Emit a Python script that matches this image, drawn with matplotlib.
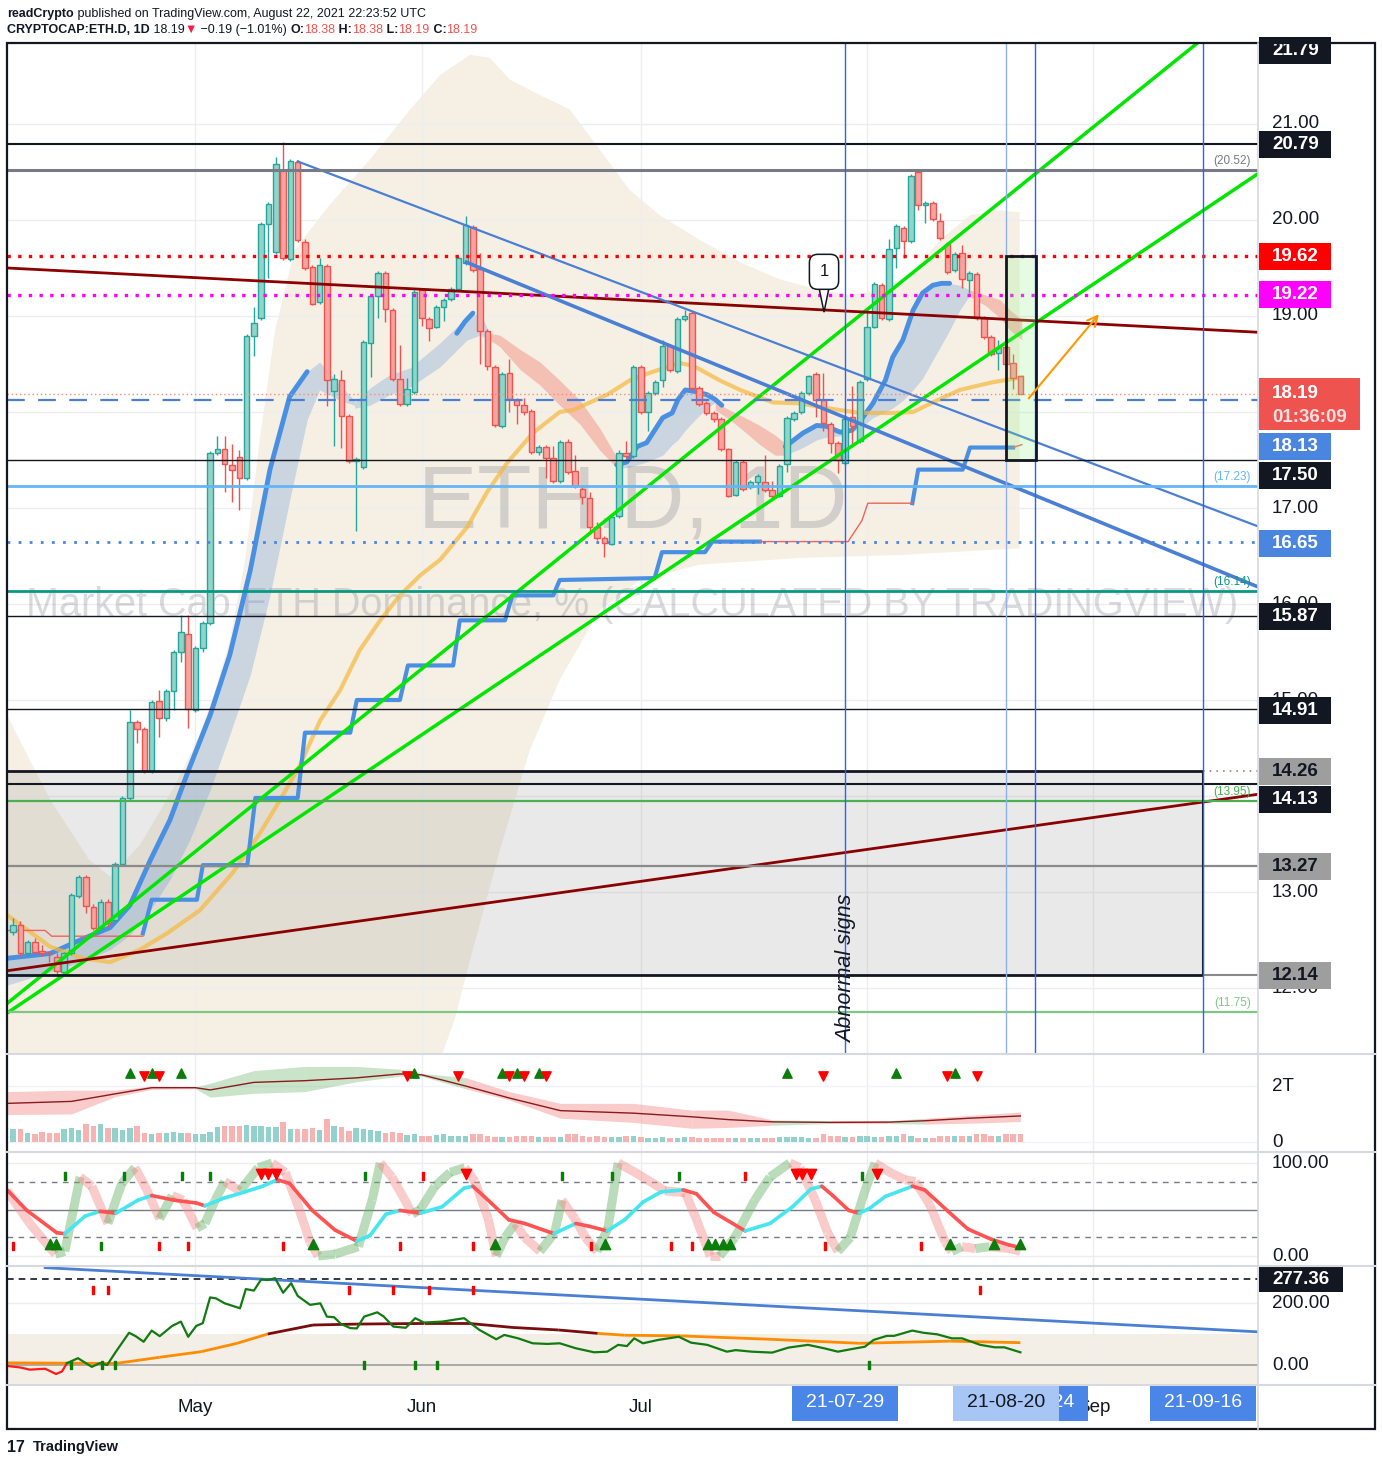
import numpy as np
import pandas as pd
import matplotlib
matplotlib.use("Agg")
import matplotlib.pyplot as plt
from matplotlib.patches import Rectangle, Polygon
from matplotlib.lines import Line2D
from matplotlib.collections import LineCollection
from matplotlib.transforms import blended_transform_factory as blend

plt.rcParams['font.family'] = ['Liberation Sans', 'DejaVu Sans']

W, H = 1382, 1466
START = pd.Timestamp('2021-04-06')


def day(s):
    return (pd.Timestamp(s) - START).days


XMIN, XMAX = -0.82, 170.55

# ---- daily candles, ETH dominance (%) ----
opens = [12.58, 12.66, 12.36, 12.48, 12.39, 12.37, 12.32, 12.17, 12.36, 12.96,
         13.16, 12.84, 12.63, 12.90, 12.71, 13.29, 13.98, 14.77, 14.70, 14.26,
         14.99, 14.81, 15.09, 15.50, 15.69, 14.90, 15.54, 15.80, 17.57, 17.61,
         17.45, 17.53, 17.31, 18.79, 18.98, 19.96, 19.67, 20.52, 19.59, 20.60,
         19.77, 19.51, 19.15, 19.52, 18.22, 18.33, 17.96, 17.49, 17.43, 18.72,
         19.21, 19.45, 19.06, 18.34, 18.08, 18.21, 19.27, 18.97, 18.89, 19.09,
         19.18, 19.28, 19.55, 19.93, 19.49, 18.84, 18.47, 17.85, 18.41, 18.12,
         18.07, 18.01, 17.58, 17.64, 17.52, 17.28, 17.69, 17.39, 17.20, 17.10,
         16.80, 16.69, 16.63, 16.92, 17.57, 17.54, 18.47, 18.00, 18.20, 18.33,
         18.69, 18.43, 18.97, 19.03, 18.25, 18.09, 17.99, 17.93, 17.61, 17.14,
         17.48, 17.22, 17.27, 17.27, 17.19, 17.13, 17.46, 17.93, 18.00, 18.20,
         18.40, 18.12, 17.88, 17.68, 17.47, 17.95, 17.70, 18.34, 18.89, 19.32,
         18.97, 19.71, 19.92, 19.78, 20.50, 20.16, 20.18, 19.99, 19.75, 19.48,
         19.66, 19.38, 19.44, 18.98, 18.78, 18.61, 18.68, 18.51, 18.38]
highs = [12.73, 12.70, 12.50, 12.52, 12.45, 12.39, 12.36, 12.38, 12.99, 13.18,
         13.18, 12.88, 12.93, 12.93, 13.31, 14.00, 14.90, 14.79, 14.72, 15.00,
         15.10, 15.11, 15.52, 15.89, 15.89, 15.56, 15.82, 17.59, 17.75, 17.75,
         17.67, 17.60, 18.81, 19.09, 19.98, 20.19, 20.66, 20.81, 20.63, 20.62,
         19.80, 19.53, 19.60, 19.54, 18.40, 18.44, 17.98, 17.53, 18.75, 19.23,
         19.47, 19.47, 19.08, 18.70, 18.35, 19.27, 19.29, 18.99, 19.11, 19.19,
         19.30, 19.62, 20.04, 19.95, 19.66, 18.86, 18.49, 18.42, 18.55, 18.15,
         18.15, 18.03, 17.66, 17.66, 17.65, 17.71, 17.72, 17.55, 17.22, 17.17,
         16.85, 16.71, 16.93, 17.60, 17.70, 18.49, 18.49, 18.22, 18.33, 18.75,
         18.71, 18.99, 19.06, 19.05, 18.27, 18.11, 18.01, 17.95, 17.63, 17.50,
         17.50, 17.29, 17.35, 17.55, 17.28, 17.46, 17.96, 18.01, 18.22, 18.39,
         18.42, 18.41, 17.90, 17.70, 17.95, 18.27, 18.33, 19.06, 19.35, 19.34,
         19.80, 19.96, 19.94, 20.48, 20.52, 20.20, 20.20, 20.07, 19.77, 19.67,
         19.74, 19.47, 19.46, 19.00, 18.80, 18.75, 18.88, 18.60, 18.38]
lows = [12.55, 12.33, 12.33, 12.35, 12.33, 12.27, 12.15, 12.14, 12.34, 12.94,
        12.78, 12.60, 12.60, 12.64, 12.69, 13.27, 13.96, 14.55, 14.24, 14.24,
        14.62, 14.78, 14.90, 15.40, 14.71, 14.88, 15.50, 15.78, 17.55, 17.17,
        17.06, 16.98, 17.29, 18.58, 18.96, 19.40, 19.65, 19.58, 19.57, 19.77,
        19.48, 19.11, 19.13, 18.06, 17.65, 17.62, 17.47, 16.76, 17.41, 18.36,
        18.98, 18.94, 18.32, 18.06, 18.06, 18.19, 18.90, 18.74, 18.87, 18.95,
        19.16, 19.26, 19.53, 19.46, 18.50, 18.44, 17.84, 17.83, 18.00, 17.88,
        17.97, 17.56, 17.55, 17.31, 17.26, 17.26, 17.35, 17.21, 17.04, 16.73,
        16.67, 16.49, 16.61, 16.90, 17.52, 17.52, 17.98, 17.80, 18.18, 18.26,
        18.42, 18.41, 18.95, 18.23, 18.06, 17.97, 17.90, 17.59, 17.11, 17.12,
        17.18, 17.20, 17.15, 17.17, 17.10, 17.11, 17.38, 17.91, 17.98, 18.18,
        17.95, 17.80, 17.57, 17.36, 17.45, 17.66, 17.68, 18.32, 18.87, 18.96,
        18.95, 19.50, 19.60, 19.76, 20.10, 19.97, 19.99, 19.79, 19.44, 19.46,
        19.29, 19.24, 18.96, 18.76, 18.58, 18.44, 18.48, 18.24, 18.19]
closes = [12.66, 12.37, 12.48, 12.38, 12.37, 12.36, 12.18, 12.36, 12.97, 13.16,
          12.85, 12.63, 12.90, 12.68, 13.29, 13.98, 14.77, 14.70, 14.26, 14.98,
          14.81, 15.09, 15.50, 15.71, 14.91, 15.54, 15.80, 17.57, 17.61, 17.46,
          17.40, 17.31, 18.79, 18.93, 19.96, 20.17, 20.58, 19.60, 20.61, 19.79,
          19.50, 19.13, 19.53, 18.33, 18.34, 17.96, 17.49, 17.51, 18.73, 19.21,
          19.45, 19.07, 18.34, 18.08, 18.24, 19.25, 18.98, 18.88, 19.09, 19.17,
          19.28, 19.60, 19.95, 19.48, 18.84, 18.48, 17.86, 18.40, 18.14, 18.07,
          18.00, 17.58, 17.64, 17.52, 17.28, 17.69, 17.37, 17.23, 17.11, 16.80,
          16.69, 16.64, 16.91, 17.57, 17.54, 18.47, 18.00, 18.20, 18.31, 18.69,
          18.44, 18.97, 19.00, 18.25, 18.08, 17.99, 17.93, 17.61, 17.13, 17.48,
          17.20, 17.27, 17.33, 17.19, 17.12, 17.44, 17.94, 17.99, 18.20, 18.37,
          18.12, 17.89, 17.68, 17.50, 17.93, 17.85, 18.31, 18.89, 19.33, 18.98,
          19.70, 19.94, 19.78, 20.46, 20.16, 20.18, 20.01, 19.81, 19.46, 19.65,
          19.39, 19.45, 18.98, 18.78, 18.60, 18.68, 18.50, 18.35, 18.19]
volumes = [.46, .45, .31, .29, .35, .31, .31, .45, .49, .43,
           .63, .58, .63, .49, .49, .43, .49, .58, .31, .27,
           .33, .33, .35, .31, .31, .27, .27, .37, .55, .58,
           .58, .58, .61, .58, .58, .55, .55, .70, .46, .45,
           .46, .51, .43, .81, .58, .52, .39, .49, .46, .43,
           .39, .31, .35, .31, .25, .27, .23, .23, .25, .27,
           .23, .23, .23, .30, .30, .23, .19, .19, .19, .23,
           .20, .20, .19, .19, .19, .18, .27, .27, .23, .19,
           .20, .19, .19, .19, .20, .20, .19, .15, .15, .17,
           .15, .15, .19, .19, .15, .13, .13, .13, .13, .15,
           .13, .13, .13, .13, .13, .19, .19, .17, .17, .15,
           .15, .27, .20, .20, .19, .19, .20, .20, .18, .18,
           .20, .23, .27, .20, .15, .15, .15, .20, .23, .23,
           .23, .23, .27, .27, .23, .23, .27, .27, .27]

# ---- overlays on the price pane ----
cloud_up_x = [-0.8, 5.1, 10.5, 13.3, 17.4, 22.2, 25.6, 27.7, 29.7, 31.8, 33.8, 35.9,
              38.6, 43.4, 48.9, 54.4, 58.5, 62.6, 65.3, 68.1, 72.2, 76.3, 80.4, 84.5,
              88.6, 94.1, 99.6, 105.1, 110.5, 114.7, 118.8, 122.9, 127.0, 131.1, 135.2, 137.9]
cloud_up_y = [14.84, 13.96, 13.33, 13.16, 13.49, 14.11, 14.64, 15.10, 15.62, 16.46, 17.71, 18.85,
              19.69, 20.16, 20.63, 21.15, 21.51, 21.72, 21.69, 21.46, 21.30, 21.15, 20.73, 20.31,
              20.05, 19.79, 19.56, 19.38, 19.27, 19.22, 19.27, 19.43, 19.79, 20.05, 20.10, 20.08]
cloud_lo_x = [137.9, 121.5, 107.8, 94.1, 85.9, 80.4, 74.9, 70.8, 66.7, 62.6, 60.5, 58.5, -0.8]
cloud_lo_y = [16.58, 16.51, 16.48, 16.41, 16.25, 15.94, 15.21, 14.48, 13.44, 12.29, 11.67, 11.25, 11.25]

rb1_x = [-0.8, 5.1, 9.2, 13.3, 16.0, 18.8, 21.5, 24.2, 27.0, 29.7, 32.5, 35.2, 37.9, 40.3, 42.0, 44.8, 46.8]
rb1_top = [12.31, 12.36, 12.50, 12.63, 12.86, 13.33, 13.75, 14.30, 14.84, 15.47, 16.35, 17.40, 18.16, 18.42, 18.52, 18.28, 18.12]
rb1_bot = [12.03, 12.17, 12.27, 12.40, 12.55, 12.81, 13.13, 13.54, 14.06, 14.64, 15.26, 16.09, 17.08, 17.92, 18.23, 18.12, 18.07]
rb2_x = [46.8, 48.9, 51.6, 54.4, 58.5, 62.2, 64.0, 65.3]
rb2_top = [18.10, 18.25, 18.39, 18.46, 18.72, 18.99, 19.03, 18.82]
rb2_bot = [18.04, 18.07, 18.18, 18.26, 18.47, 18.75, 18.80, 18.75]
rp1_x = [65.3, 66.7, 69.5, 72.2, 74.9, 77.7, 80.4, 82.7]
rp1_top = [18.82, 18.80, 18.65, 18.52, 18.33, 18.12, 17.83, 17.53]
rp1_bot = [18.75, 18.68, 18.44, 18.28, 18.07, 17.87, 17.60, 17.42]
rb3_x = [82.7, 84.1, 85.5, 86.8, 89.0, 90.3, 91.1, 92.1, 93.7, 95.1, 96.2, 97.1]
rb3_top = [17.45, 17.48, 17.64, 17.68, 17.94, 17.99, 18.13, 18.23, 18.21, 18.18, 18.13, 18.07]
rb3_bot = [17.42, 17.42, 17.45, 17.48, 17.55, 17.66, 17.71, 17.81, 17.94, 18.04, 18.10, 18.07]
rp2_x = [96.2, 98.2, 100.3, 102.3, 104.4, 106.0]
rp2_top = [18.10, 18.02, 17.94, 17.86, 17.76, 17.66]
rp2_bot = [18.02, 17.92, 17.79, 17.66, 17.55, 17.55]
rb4_x = [105.8, 108.2, 110.1, 111.5, 113.3, 114.9, 116.0, 117.8, 119.5, 120.5, 121.9, 123.3,
         124.6, 126.0, 127.2, 128.3, 129.7, 131.1]
rb4_top = [17.64, 17.78, 17.86, 17.85, 17.79, 17.81, 17.90, 18.09, 18.33, 18.57, 18.75, 19.06,
           19.24, 19.32, 19.34, 19.34, 19.32, 19.27]
rb4_bot = [17.55, 17.63, 17.71, 17.74, 17.75, 17.79, 17.83, 17.94, 18.00, 18.04, 18.12, 18.23,
           18.35, 18.54, 18.70, 18.85, 19.06, 19.22]
rp3_x = [131.1, 133.2, 135.2, 136.6, 138.2]
rp3_top = [19.27, 19.22, 19.17, 19.06, 18.96]
rp3_bot = [19.20, 19.11, 18.98, 18.85, 18.75]
hull2_x = [60.8, 61.9, 63.0]
hull2_y = [18.82, 18.94, 19.03]

ema_x = [-0.8, 5.1, 9.6, 13.3, 17.4, 21.1, 25.6, 30.1, 33.8, 36.6, 39.3, 42.1, 44.8, 47.5,
         50.3, 53.0, 55.8, 58.5, 62.2, 64.9, 67.7, 71.2, 74.9, 76.7, 81.4, 84.5, 87.3, 91.4,
         93.2, 96.8, 99.6, 104.1, 107.8, 111.5, 116.0, 120.5, 123.3, 126.0, 129.7, 134.2, 138.2]
ema_y = [12.76, 12.43, 12.31, 12.27, 12.40, 12.57, 12.81, 13.20, 13.61, 13.96, 14.32, 14.79, 15.10, 15.52,
         15.83, 16.09, 16.30, 16.46, 16.80, 17.16, 17.47, 17.78, 18.00, 18.02, 18.18, 18.33, 18.41, 18.51,
         18.48, 18.33, 18.23, 18.10, 18.09, 18.04, 17.99, 17.99, 18.00, 18.10, 18.23, 18.31, 18.36]

step_x = [17.8, 19.0, 25.2, 26.0, 32.1, 33.2, 39.0, 40.0, 46.2, 47.1, 53.0, 54.1, 60.3, 61.2,
          67.4, 68.4, 74.0, 74.9, 87.9, 88.9, 94.8, 95.8, 102.3]
step_y = [12.57, 12.92, 12.92, 13.28, 13.28, 13.98, 13.98, 14.66, 14.66, 15.00, 15.00, 15.36, 15.36, 15.83,
          15.83, 16.09, 16.09, 16.25, 16.27, 16.54, 16.54, 16.65, 16.65]
step2_x = [123.2, 124.0, 130.1, 131.1, 137.0]
step2_y = [17.05, 17.40, 17.40, 17.63, 17.63]
stop_r1_x = [-0.8, 4.4, 5.3, 17.8]
stop_r1_y = [12.60, 12.60, 12.54, 12.54]
stop_r2_x = [102.3, 114.4, 116.3, 117.1, 123.2]
stop_r2_y = [16.65, 16.65, 16.87, 17.05, 17.05]
stop_r3_x = [137.0, 138.2]
stop_r3_y = [17.63, 17.66]

green_up_x, green_up_y = [-0.8, 162.2], [11.84, 21.84]
green_lo_x, green_lo_y = [-0.8, 170.7], [11.74, 20.49]
red_dn_x, red_dn_y = [-0.8, 170.7], [19.50, 18.83]
red_up_x, red_up_y = [-0.8, 170.7], [12.18, 14.02]
blue_thin_x, blue_thin_y = [39.0, 170.5], [20.61, 16.81]
blue_thick_x, blue_thick_y = [62.1, 170.5], [19.56, 16.18]

# price-scale tags: (level, where the tag sits, fill, text colour)
tag_levels = [21.79, 20.79, 19.62, 19.22, 18.13, 17.50, 16.65, 15.87, 14.91, 14.26, 14.13, 13.27, 12.14]
tag_spots = [21.77, 20.79, 19.62, 19.22, 17.64, 17.34, 16.63, 15.87, 14.89, 14.26, 13.96, 13.27, 12.13]
tag_fills = ['#131722', '#131722', '#ff0000', '#ff00ff', '#4a86e0', '#131722', '#4a86e0', '#131722',
             '#131722', '#9e9e9e', '#131722', '#9e9e9e', '#9e9e9e']
tag_text = ['white'] * 9 + ['#131722', 'white', '#131722', '#131722']
price_ticks = [21, 20, 19, 17, 16, 15, 13, 12]

# ---- volume pane ----
vr_x = [-0.8, 8, 14, 19, 25, 27, 33, 40, 47, 53, 56, 62, 68, 75, 85, 93, 98, 104, 112, 120, 125, 131, 138]
vr_mid = [1.38, 1.45, 1.72, 1.94, 1.94, 1.86, 2.13, 2.19, 2.29, 2.43, 2.40, 2.00, 1.57, 1.12, 1.03, 0.90,
          0.80, 0.72, 0.70, 0.71, 0.76, 0.85, 0.93]
vr_up = [1.80, 1.85, 1.85, 2.00, 1.96, 2.10, 2.55, 2.70, 2.70, 2.60, 2.45, 2.30, 1.80, 1.38, 1.38, 1.14,
         1.14, 0.79, 0.76, 0.76, 0.85, 0.95, 1.07]
vr_lo = [0.98, 1.00, 1.62, 1.88, 1.90, 1.60, 1.74, 1.80, 2.15, 2.35, 2.35, 1.90, 1.50, 0.85, 0.70, 0.49,
         0.52, 0.60, 0.66, 0.66, 0.64, 0.67, 0.73]
vr_state = ['p', 'p', 'p', 'p', 'g', 'g', 'g', 'g', 'g', 'g', 'g', 'p', 'p', 'p', 'p', 'p', 'p', 'g',
            'p', 'g', 'p', 'p']
vol_up_sig = [16, 19, 23, 55, 67, 69, 72, 106, 121, 129]
vol_dn_sig = [18, 20, 54, 61, 68, 70, 73, 111, 128, 132]

# ---- stochastic pane ----
fast_x = [-0.8, 2.3, 5.8, 7.1, 9.2, 10.8, 13.0, 14.9, 16.7, 18.1, 20.1, 21.8, 23.3, 25.2, 26.3, 27.7,
          29.0, 31.1, 33.6, 35.5, 37.3, 39.0, 40.7, 41.8, 44.1, 47.3, 49.2, 50.3, 51.9, 53.7, 54.7,
          55.8, 57.8, 59.9, 61.9, 63.3, 65.1, 66.2, 67.4, 68.8, 70.1, 72.2, 74.2, 75.2, 77.0, 78.4,
          80.0, 81.5, 82.9, 85.2, 87.3, 89.3, 92.1, 93.6, 95.5, 96.8, 98.9, 101.6, 103.7, 106.4,
          107.8, 109.9, 111.6, 113.0, 114.7, 116.7, 118.1, 120.1, 122.2, 123.6, 125.6, 127.7, 128.6,
          130.0, 131.8, 133.8, 136.6, 138.0]
fast_v = [70, 35, 2, 5, 85, 75, 35, 78, 95, 75, 40, 65, 60, 30, 35, 60, 80, 70, 95, 100, 90, 55, 15, 0,
          2, 10, 60, 100, 85, 60, 45, 50, 75, 90, 95, 80, 40, 0, 20, 35, 20, 5, 25, 60, 40, 20, 5, 30,
          100, 90, 80, 70, 68, 40, 0, 0, 20, 60, 85, 100, 95, 60, 25, 5, 20, 70, 100, 90, 82, 80, 55,
          15, 5, 10, 8, 10, 8, 5]
slow_x = [-0.8, 1.9, 6.0, 7.1, 9.9, 11.9, 14.1, 17.1, 19.0, 22.1, 25.1, 26.3, 28.8, 31.8, 34.2, 36.2,
          37.9, 41.0, 44.1, 47.1, 48.9, 51.1, 53.0, 55.8, 58.8, 61.8, 63.0, 65.5, 67.9, 70.1, 74.1,
          77.1, 78.9, 81.4, 83.8, 86.3, 88.8, 91.8, 93.6, 96.0, 100.3, 103.7, 106.8, 109.3, 110.8,
          112.3, 114.5, 115.9, 117.3, 119.5, 123.2, 124.9, 128.1, 130.8, 134.0, 136.4, 138.0]
slow_v = [71, 49, 25, 24, 43, 48, 46, 60, 65, 60, 57, 54, 62, 69, 75, 82, 78, 49, 28, 16, 22, 45, 49,
          46, 53, 73, 75, 57, 39, 35, 24, 35, 32, 27, 39, 58, 69, 71, 67, 47, 27, 35, 53, 72, 75, 65,
          49, 46, 51, 64, 75, 71, 48, 29, 18, 12, 9]
st_up_tri = [5.1, 5.9, 41.1, 66.0, 81.1, 95.2, 96.2, 97.3, 98.2, 128.4, 134.4, 138.0]
st_dn_tri = [34.0, 34.9, 36.0, 62.1, 107.3, 108.1, 109.3, 118.4]
st_i_green_top = [7.1, 15.2, 23.2, 27.0, 48.2, 75.2, 82.1, 91.2, 116.3]
st_i_red_top = [56.2, 100.3]
st_i_red_bot = [0, 20.0, 24.0, 37.0, 53.0, 63.0, 79.2, 90.1, 93.0, 111.2, 124.4]
st_i_green_bot = [12.1]

# ---- lower oscillator pane ----
osc_x = [-0.8, 1.0, 2.3, 4.4, 5.9, 6.7, 7.4, 8.9, 10.8, 11.9, 12.9, 14.1, 15.9, 16.8, 17.9, 19.0,
         20.1, 21.8, 23.0, 24.0, 25.1, 26.0, 27.0, 27.8, 29.0, 31.1, 31.9, 33.0, 34.0, 34.9, 35.9,
         37.0, 38.1, 39.0, 40.7, 42.1, 43.0, 44.0, 44.9, 46.2, 47.1, 48.1, 49.9, 50.8, 52.1, 53.8,
         55.1, 56.3, 58.8, 61.8, 63.9, 66.2, 67.3, 69.2, 71.2, 73.2, 74.9, 77.1, 79.6, 81.4, 82.9,
         84.1, 85.1, 86.3, 88.4, 91.2, 92.9, 95.1, 97.8, 99.0, 101.2, 104.0, 106.2, 108.9, 111.1,
         113.0, 114.8, 116.7, 117.9, 119.7, 120.7, 123.2, 124.7, 126.6, 128.6, 130.0, 132.5, 134.5,
         135.8, 138.0]
osc_v = [-3, -8, -15, -12, -29, -21, 6, 22, -6, 6, 0, 43, 104, 93, 75, 111, 93, 126, 140, 91, 126, 135,
         218, 215, 199, 183, 245, 240, 276, 274, 280, 233, 264, 223, 194, 199, 156, 154, 133, 119, 118,
         156, 170, 156, 124, 120, 151, 137, 140, 151, 113, 83, 97, 86, 70, 68, 70, 54, 41, 43, 65, 61,
         86, 70, 81, 91, 72, 65, 43, 48, 43, 40, 56, 65, 54, 43, 51, 59, 81, 94, 94, 111, 104, 99, 86,
         86, 65, 57, 57, 41]
osc_ma_x = [-0.8, 14.1, 20.1, 25.8, 30.7, 34.9, 41.1, 47.1, 56.3, 62.5, 68.5, 74.7, 80.1, 83.8, 91.4,
            103.7, 116.0, 128.4, 138.0]
osc_ma_v = [7, 5, 25, 43, 70, 100, 129, 132, 134, 134, 121, 113, 102, 96, 94, 83, 70, 77, 72]
osc_trend_x, osc_trend_v = [4.4, 170.5], [314, 107]
osc_i_red = [11.0, 13.0, 46.0, 52.1, 57.0, 63.0, 132.5]
osc_i_green = [7.9, 12.2, 14.0, 48.1, 55.1, 58.1, 117.3]

fig = plt.figure(figsize=(W / 100, H / 100), dpi=100)
fig.patch.set_facecolor('white')


def px_axes(l, t, r, b, ylim):
    ax = fig.add_axes([l / W, 1 - b / H, (r - l) / W, (b - t) / H])
    ax.set_xlim(XMIN, XMAX)
    ax.set_ylim(*ylim)
    for s in ax.spines.values():
        s.set_visible(False)
    ax.set_xticks([])
    ax.set_yticks([])
    ax.patch.set_alpha(0)
    return ax


ax = px_axes(7, 44, 1258, 1054, (11.313, 21.833))
ax_v = px_axes(7, 1054, 1258, 1152, (-0.357, 3.143))
ax_s = px_axes(7, 1152, 1258, 1266, (-10.75, 111.83))
ax_o = px_axes(7, 1266, 1258, 1385, (-64.5, 319.35))
ax_d = px_axes(7, 1385, 1258, 1428, (0, 1))

month_days = [day('2021-05-01'), day('2021-06-01'), day('2021-07-01'), day('2021-08-01'), day('2021-09-01')]
for a in (ax, ax_v, ax_s, ax_o):
    for d in month_days:
        a.axvline(d, color='#eceef2', lw=1, zorder=0.5)
for p in range(12, 22):
    ax.axhline(p, color='#eceef2', lw=1, zorder=0.5)

# price pane ------------------------------------------------------------
ax.fill(cloud_up_x + cloud_lo_x, cloud_up_y + cloud_lo_y, color='#f6f0e4', lw=0, zorder=0.2)
ax.add_patch(Rectangle((XMIN, 12.14), day('2021-09-16') - XMIN, 2.12, fc=(0.5, 0.5, 0.5, 0.17),
                       ec='none', zorder=1))
ax.text(0.5, 0.5436, 'ETH.D, 1D', transform=ax.transAxes, ha='center', va='center', fontsize=64,
        color=(0.47, 0.48, 0.53, 0.28), zorder=1.5)
ax.text(0.5, 0.4446, 'Market Cap ETH Dominance, % (CALCULATED BY TRADINGVIEW)', transform=ax.transAxes,
        ha='center', va='center', fontsize=28.5, color=(0.47, 0.48, 0.53, 0.28), zorder=1.5)

BLUE_RIB, PINK_RIB = (0.40, 0.60, 0.85, 0.30), (0.95, 0.45, 0.40, 0.38)
for xs, tp, bt, c in [(rb1_x, rb1_top, rb1_bot, BLUE_RIB), (rb2_x, rb2_top, rb2_bot, BLUE_RIB),
                      (rp1_x, rp1_top, rp1_bot, PINK_RIB), (rb3_x, rb3_top, rb3_bot, BLUE_RIB),
                      (rp2_x, rp2_top, rp2_bot, PINK_RIB), (rb4_x, rb4_top, rb4_bot, BLUE_RIB),
                      (rp3_x, rp3_top, rp3_bot, PINK_RIB)]:
    ax.fill_between(xs, bt, tp, color=c, lw=0, zorder=2)
HULL = '#4a90e2'
ax.plot(rb1_x[:14], rb1_top[:14], color=HULL, lw=3.5, zorder=3, solid_capstyle='round')
ax.plot(hull2_x, hull2_y, color=HULL, lw=3.5, zorder=3, solid_capstyle='round')
ax.plot(rb3_x, rb3_top, color=HULL, lw=3.5, zorder=3, solid_capstyle='round')
ax.plot(rb4_x[:16], rb4_top[:16], color=HULL, lw=3.5, zorder=3, solid_capstyle='round')
ax.plot(ema_x, ema_y, color='#f5b83d', lw=3, alpha=0.7, zorder=3)
ax.plot(step_x, step_y, color=HULL, lw=3, zorder=3)
ax.plot(step2_x, step2_y, color=HULL, lw=3, zorder=3)
for xs, ys in [(stop_r1_x, stop_r1_y), (stop_r2_x, stop_r2_y), (stop_r3_x, stop_r3_y)]:
    ax.plot(xs, ys, color='#f0625d', lw=1, zorder=3)

# candles
x = np.arange(len(opens))
o, hh, ll, c = map(np.array, (opens, highs, lows, closes))
up = c >= o
ax.vlines(x, ll, hh, colors=np.where(up, '#26a69a', '#ef5350'), lw=1, zorder=4)
ax.bar(x, c - o, bottom=o, width=0.75, color=np.where(up, '#92d3ca', '#f7a39f'),
       edgecolor=np.where(up, '#26a69a', '#ef5350'), lw=1, zorder=4.5)

# drawings
ax.plot(green_up_x, green_up_y, color='#00e600', lw=2.5, zorder=5)
ax.plot(green_lo_x, green_lo_y, color='#00e600', lw=2.5, zorder=5)
ax.plot(red_dn_x, red_dn_y, color='#8b0000', lw=2, zorder=5)
ax.plot(red_up_x, red_up_y, color='#8b0000', lw=2, zorder=5)
ax.plot(blue_thin_x, blue_thin_y, color='#4a7fd4', lw=1.6, zorder=5)
ax.plot(blue_thick_x, blue_thick_y, color='#4a7fd4', lw=2.6, zorder=5)

sep16 = day('2021-09-16')
ax.axhline(20.79, color='#131722', lw=1.5, zorder=5)
ax.axhline(20.52, color='#787b86', lw=2.2, zorder=5)
ax.axhline(19.62, color='#ff0000', lw=2.4, ls=(0, (1, 2.2)), zorder=5)
ax.axhline(19.22, color='#ff00ff', lw=2.4, ls=(0, (1, 2.2)), zorder=5)
ax.axhline(18.19, color='#f28b82', lw=1, ls=(0, (1, 2)), zorder=5)
ax.axhline(18.13, color='#4a7fd4', lw=1.6, ls=(0, (8, 6)), zorder=5)
ax.axhline(17.50, color='#131722', lw=1, zorder=5)
ax.axhline(17.23, color='#64b5f6', lw=2, zorder=5)
ax.axhline(16.65, color='#4a86e0', lw=2, ls=(0, (1, 3)), zorder=5)
ax.axhline(16.14, color='#089981', lw=2, zorder=5)
ax.axhline(15.87, color='#131722', lw=1, zorder=5)
ax.axhline(14.91, color='#131722', lw=1, zorder=5)
ax.axhline(14.13, color='#131722', lw=1.5, zorder=5)
ax.axhline(13.95, color='#4caf50', lw=1.6, zorder=5)
ax.axhline(13.27, color='#8a8a8a', lw=1.6, zorder=5)
ax.axhline(11.75, color='#81c784', lw=1.6, zorder=5)
ax.hlines([14.26, 12.14], XMIN, sep16, color='#131722', lw=2, zorder=5)
ax.vlines(sep16, 12.14, 14.26, color='#131722', lw=1.5, zorder=5)
ax.hlines(12.14, sep16, XMAX, color='#8a8a8a', lw=1.5, zorder=5)
ax.hlines(14.26, sep16, XMAX, color='#8a8a8a', lw=1.2, ls=(0, (1, 3)), zorder=5)
for txt, yv, col in [('(20.52)', 20.52, '#787b86'), ('(17.23)', 17.23, '#64b5f6'),
                     ('(16.14)', 16.14, '#089981'), ('(13.95)', 13.95, '#4caf50'),
                     ('(11.75)', 11.75, '#81c784')]:
    ax.text(0.9945, yv + 0.03, txt, transform=blend(ax.transAxes, ax.transData), ha='right',
            va='bottom', fontsize=8.5, color=col, zorder=6)

for d, col in [(day('2021-07-29'), '#2962ff'), (day('2021-08-20'), '#8fb0ee'),
               (day('2021-08-24'), '#2962ff'), (sep16, '#2962ff')]:
    ax.axvline(d, color=col, lw=1, zorder=5)
ax.add_patch(Rectangle((day('2021-08-20'), 17.50), 4.1, 2.12, fc=(0.55, 0.95, 0.5, 0.22),
                       ec='#131722', lw=2, zorder=5.5))
ax.annotate('', xy=(149.0, 19.04), xytext=(138.9, 18.12),
            arrowprops=dict(arrowstyle='->', color='#ff9800', lw=1.5, mutation_scale=18), zorder=6)
ax.add_patch(Polygon([(110.4, 19.30), (111.1, 19.04), (111.8, 19.30)], closed=True, fc='white',
                     ec='#131722', lw=1.1, zorder=6))
ax.text(111.1, 19.46, '1', ha='center', va='center', fontsize=12, color='#131722', zorder=6.5,
        bbox=dict(boxstyle='round,pad=0.6,rounding_size=0.5', fc='white', ec='#131722', lw=1.1))
ax.text(day('2021-07-29') + 0.15, 12.20, 'Abnormal signs', rotation=90, ha='center', va='center',
        fontsize=15.5, style='italic', color='#131722', zorder=6)

# right scale
tr = blend(ax.transAxes, ax.transData)
for p in price_ticks:
    ax.text(1.0112, p, f'{p:.2f}', transform=tr, va='center', ha='left', fontsize=13.5,
            color='#131722', clip_on=False, zorder=7)


def plabel(a, yv, txt, fc, dpp, tc='white', wpx=72, hpx=27):
    t = blend(a.transAxes, a.transData)
    a.add_patch(Rectangle((1.0008, yv - hpx * dpp / 2), wpx / 1251, hpx * dpp, transform=t, fc=fc,
                          ec='none', clip_on=False, zorder=8))
    a.text(1.0112, yv, txt, transform=t, ha='left', va='center', color=tc, fontsize=13.5,
           fontweight='bold', clip_on=False, zorder=9)


for lv, spot, fc, tc in zip(tag_levels, tag_spots, tag_fills, tag_text):
    plabel(ax, spot, f'{lv:.2f}', fc, 1 / 96, tc)
ax.add_patch(Rectangle((1.0008, 17.94 - 0.13), 101 / 1251, 52 / 96, transform=tr, fc='#ef5350',
                       ec='none', clip_on=False, zorder=8))
ax.text(1.0112, 18.19, f'{closes[-1]:.2f}', transform=tr, ha='left', va='center', color='white',
        fontsize=13.5, fontweight='bold', clip_on=False, zorder=9)
ax.text(1.0112, 17.94, '01:36:09', transform=tr, ha='left', va='center', color='#fde0df',
        fontsize=13.5, fontweight='bold', clip_on=False, zorder=9)

# volume pane -------------------------------------------------------------
for i in range(len(vr_x) - 1):
    col = (0.97, 0.6, 0.6, 0.5) if vr_state[i] == 'p' else (0.45, 0.72, 0.45, 0.38)
    ax_v.fill_between(vr_x[i:i + 2], vr_lo[i:i + 2], vr_up[i:i + 2], color=col, lw=0, zorder=1)
ax_v.plot(vr_x, vr_mid, color='#8b1a1a', lw=1, zorder=2)
ax_v.bar(x, volumes, width=0.75, color=np.where(up, '#93d2cc', '#f7b3b1'), zorder=2)
ax_v.scatter(vol_up_sig, [2.45] * len(vol_up_sig), marker='^', s=45, color='#0a7d0a', zorder=3)
ax_v.scatter(vol_dn_sig, [2.37] * len(vol_dn_sig), marker='v', s=45, color='#ff0000', zorder=3)
ax_v.axhline(2, color='#f0f3fa', lw=1, zorder=0.5)
ax_v.axhline(0, color='#f0f3fa', lw=1, zorder=0.5)
tv = blend(ax_v.transAxes, ax_v.transData)
ax_v.text(1.0112, 2.0, '2T', transform=tv, va='center', fontsize=13.5, color='#131722', clip_on=False)
ax_v.text(1.0112, 0.0, '0', transform=tv, va='center', fontsize=13.5, color='#131722', clip_on=False)

# stochastic pane ---------------------------------------------------------
ax_s.axhline(100, color='#eceef2', lw=1, zorder=0.5)
ax_s.axhline(0, color='#eceef2', lw=1, zorder=0.5)
ax_s.axhline(80, color='#787b86', lw=1, ls=(0, (4, 4)), zorder=1)
ax_s.axhline(20, color='#787b86', lw=1, ls=(0, (4, 4)), zorder=1)
ax_s.axhline(50, color='#787b86', lw=1, zorder=1)
fp = np.column_stack([fast_x, fast_v])
fseg = np.stack([fp[:-1], fp[1:]], axis=1)
fcol = [(0.40, 0.70, 0.40, 0.45) if b > a else (0.96, 0.55, 0.55, 0.45)
        for a, b in zip(fast_v[:-1], fast_v[1:])]
ax_s.add_collection(LineCollection(fseg, colors=fcol, lw=6.5, zorder=2, capstyle='butt'))
sp = np.column_stack([slow_x, slow_v])
sseg = np.stack([sp[:-1], sp[1:]], axis=1)
scol = ['#45e6f0' if b > a else '#ff5252' for a, b in zip(slow_v[:-1], slow_v[1:])]
ax_s.add_collection(LineCollection(sseg, colors=scol, lw=2.6, zorder=3, capstyle='round'))
ax_s.scatter(st_up_tri, [13] * len(st_up_tri), marker='^', s=55, color='#0a7d0a', zorder=4)
ax_s.scatter(st_dn_tri, [88] * len(st_dn_tri), marker='v', s=55, color='#ff0000', zorder=4)
IMK = r'$\mathrm{I}$'
ax_s.scatter(st_i_green_top, [86] * len(st_i_green_top), marker=IMK, s=40, color='#0a7d0a', zorder=4)
ax_s.scatter(st_i_red_top, [86] * len(st_i_red_top), marker=IMK, s=40, color='#ff0000', zorder=4)
ax_s.scatter(st_i_red_bot, [11] * len(st_i_red_bot), marker=IMK, s=40, color='#ff0000', zorder=4)
ax_s.scatter(st_i_green_bot, [11] * len(st_i_green_bot), marker=IMK, s=40, color='#0a7d0a', zorder=4)
ts = blend(ax_s.transAxes, ax_s.transData)
ax_s.text(1.0112, 100, '100.00', transform=ts, va='center', fontsize=13.5, color='#131722', clip_on=False)
ax_s.text(1.0112, 0, '0.00', transform=ts, va='center', fontsize=13.5, color='#131722', clip_on=False)

# lower oscillator pane ---------------------------------------------------
ax_o.axhspan(-64.5, 100, color='#f4efe6', lw=0, zorder=0.3)
ax_o.axhline(200, color='#eceef2', lw=1, zorder=0.5)
ax_o.axhline(0, color='#9e9e9e', lw=1.2, zorder=1)
ax_o.axhline(277.36, color='#131722', lw=1.2, ls=(0, (4, 3)), zorder=1)
ax_o.plot(osc_trend_x, osc_trend_v, color='#4a7fd4', lw=2, zorder=2)
mp = np.column_stack([osc_ma_x, osc_ma_v])
mseg = np.stack([mp[:-1], mp[1:]], axis=1)
mcol = ['#7a0c0c' if min(a, b) >= 100 else '#ff8c00' for a, b in zip(osc_ma_v[:-1], osc_ma_v[1:])]
ax_o.add_collection(LineCollection(mseg, colors=mcol, lw=2, zorder=2))
ax_o.plot(osc_x[:7], osc_v[:7], color='#ff1a1a', lw=1.6, zorder=3)
ax_o.plot(osc_x[6:], osc_v[6:], color='#117a11', lw=1.6, zorder=3)
ax_o.scatter(osc_i_red, [242] * len(osc_i_red), marker=IMK, s=40, color='#ff0000', zorder=4)
ax_o.scatter(osc_i_green, [0] * len(osc_i_green), marker=IMK, s=40, color='#0a7d0a', zorder=4)
to = blend(ax_o.transAxes, ax_o.transData)
ax_o.text(1.0112, 200, '200.00', transform=to, va='center', fontsize=13.5, color='#131722', clip_on=False)
ax_o.text(1.0112, 0, '0.00', transform=to, va='center', fontsize=13.5, color='#131722', clip_on=False)
ax_o.add_patch(Rectangle((1.0008, 277.36 - 13 / 0.31), 84 / 1251, 26 / 0.31, transform=to,
                         fc='#131722', ec='none', clip_on=False, zorder=8))
ax_o.text(1.0112, 277.36, '277.36', transform=to, ha='left', va='center', color='white', fontsize=13.5,
          fontweight='bold', clip_on=False, zorder=9)

# date strip --------------------------------------------------------------
for lbl, d in [('May', '2021-05-01'), ('Jun', '2021-06-01'), ('Jul', '2021-07-01'), ('Sep', '2021-09-01')]:
    ax_d.text(day(d), 0.48, lbl, ha='center', va='center', fontsize=13.5, color='#131722', zorder=1)
BOXW = 107 / 7.33
for k, (lbl, d, fc, tc) in enumerate([('21-07-29', '2021-07-29', '#4a86e8', 'white'),
                                      ('21-08-24', '2021-08-24', '#4a86e8', 'white'),
                                      ('21-08-20', '2021-08-20', '#a8c6f5', '#131722'),
                                      ('21-09-16', '2021-09-16', '#4a86e8', 'white')]):
    ax_d.add_patch(Rectangle((day(d) - BOXW / 2, 0.165), BOXW, 0.835, fc=fc, ec='none', zorder=5 + 2 * k))
    ax_d.text(day(d), 0.585, lbl, ha='center', va='center', fontsize=14, color=tc, zorder=6 + 2 * k)

# frame, separators, header -------------------------------------------------
GRAYSEP = '#d6d9e0'
for yy in [1054, 1152, 1266, 1385]:
    fig.add_artist(Line2D([7 / W, 1375 / W], [1 - yy / H] * 2, color=GRAYSEP, lw=1.5))
fig.add_artist(Line2D([1258 / W] * 2, [1 - 43 / H, 1 - 1429 / H], color=GRAYSEP, lw=1.2))
fig.add_artist(Rectangle((7 / W, 1 - 1429 / H), 1368 / W, 1386 / H, transform=fig.transFigure,
                         fill=False, ec='#131722', lw=1.6))

ov = fig.add_axes([0, 0, 1, 1])
ov.axis('off')


def chain(parts, x_px, y_px, fs):
    t = fig.text(x_px / W, 1 - y_px / H, parts[0][0], color=parts[0][1], fontweight=parts[0][2],
                 fontsize=fs, va='bottom')
    for s, col, wgt in parts[1:]:
        t = ov.annotate(s, xy=(1, 0), xycoords=t, va='bottom', ha='left', color=col,
                        fontweight=wgt, fontsize=fs, annotation_clip=False)


DK, RD = '#131722', '#ef5350'
chain([('readCrypto', DK, 'bold'), (' published on TradingView.com, August 22, 2021 22:23:52 UTC', DK, 'normal')],
      7, 20, 9)
chain([('CRYPTOCAP:ETH.D, 1D', DK, 'bold'), (' 18.19', DK, 'normal'), ('▼', '#ff1744', 'normal'),
       (' −0.19 (−1.01%) ', DK, 'normal'), ('O:', DK, 'bold'), ('18.38', RD, 'normal'),
       (' H:', DK, 'bold'), ('18.38', RD, 'normal'), (' L:', DK, 'bold'), ('18.19', RD, 'normal'),
       (' C:', DK, 'bold'), ('18.19', RD, 'normal')], 7, 36, 9)
fig.text(7 / W, 1 - 1447 / H, '17', fontsize=11.5, fontweight='heavy', color=DK, va='center')
fig.text(33 / W, 1 - 1447 / H, 'TradingView', fontsize=10.5, fontweight='bold', color=DK, va='center')

fig.savefig('out.png', dpi=100)
